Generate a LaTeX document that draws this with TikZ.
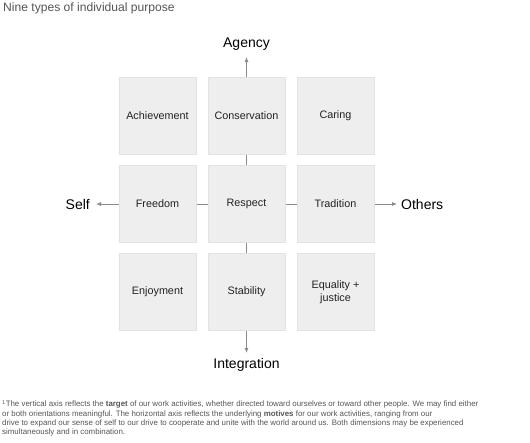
\documentclass[tikz,border=0pt]{standalone}
\usepackage{fontspec}
\setmainfont{Liberation Sans}
\usetikzlibrary{arrows.meta}
\definecolor{boxfill}{HTML}{EEEEEE}
\definecolor{boxline}{HTML}{E2E2E2}
\definecolor{axisgray}{HTML}{8A8A8A}
\definecolor{txt}{HTML}{222222}
\definecolor{notegray}{HTML}{555555}
\begin{document}
\begin{tikzpicture}[x=1pt,y=-1pt,
  cell/.style={draw=boxline,line width=0.6pt,fill=boxfill,minimum width=77pt,minimum height=77pt,inner sep=0pt,align=center,text=txt,font=\fontsize{10.8}{12.5}\selectfont},
  axislabel/.style={text=black,font=\fontsize{14}{16}\selectfont,inner sep=0pt},
  axisline/.style={draw=axisgray,line width=0.8pt},
  axisarrow/.style={axisline,-{Latex[length=5pt,width=4pt]}}]
\useasboundingbox (0,0) rectangle (530,442);
% title
\node[anchor=west,inner sep=0pt,text=notegray,font=\fontsize{12.1}{13}\selectfont] (title) at (3,8) {Nine types of individual purpose};
% axis end points
\coordinate (left) at (96,204);
\coordinate (right) at (397,204);
\coordinate (top) at (246.5,57);
\coordinate (bottom) at (246.5,353);
\coordinate (center) at (246.5,204);
% axes (behind boxes)
\draw[axisarrow] (center) -- (left);
\draw[axisarrow] (center) -- (right);
\draw[axisarrow] (center) -- (top);
\draw[axisarrow] (center) -- (bottom);
% cells
\node[cell] (ach) at (157.5,115.5) {Achievement};
\node[cell] (con) at (246.5,115.5) {Conservation};
\node[cell] (car) at (335.5,115.5) {Caring};
\node[cell] (fre) at (157.5,203.5) {Freedom};
\node[cell] (res) at (246.5,203.5) {Respect};
\node[cell] (tra) at (335.5,203.5) {Tradition};
\node[cell] (enj) at (157.5,292) {Enjoyment};
\node[cell] (sta) at (246.5,292) {Stability};
\node[cell] (equ) at (335.5,292) {Equality +\\justice};
% axis labels
\node[axislabel,anchor=east] (self) at (90,204) {Self};
\node[axislabel,anchor=west] (others) at (401,204) {Others};
\node[axislabel] (agency) at (246.5,44) {Agency};
\node[axislabel] (integ) at (246.5,365) {Integration};
% footnote
\node[anchor=north west,inner sep=0pt,align=left,text=notegray,font=\fontsize{7.9}{9.2}\selectfont] (note) at (2,400)
{\textsuperscript{1}The vertical axis reflects the \textbf{target} of our work activities, whether directed toward ourselves or toward other people. We may find either\\
or both orientations meaningful. The horizontal axis reflects the underlying \textbf{motives} for our work activities, ranging from our\\
drive to expand our sense of self to our drive to cooperate and unite with the world around us. Both dimensions may be experienced\\
simultaneously and in combination.};
\end{tikzpicture}
\end{document}
